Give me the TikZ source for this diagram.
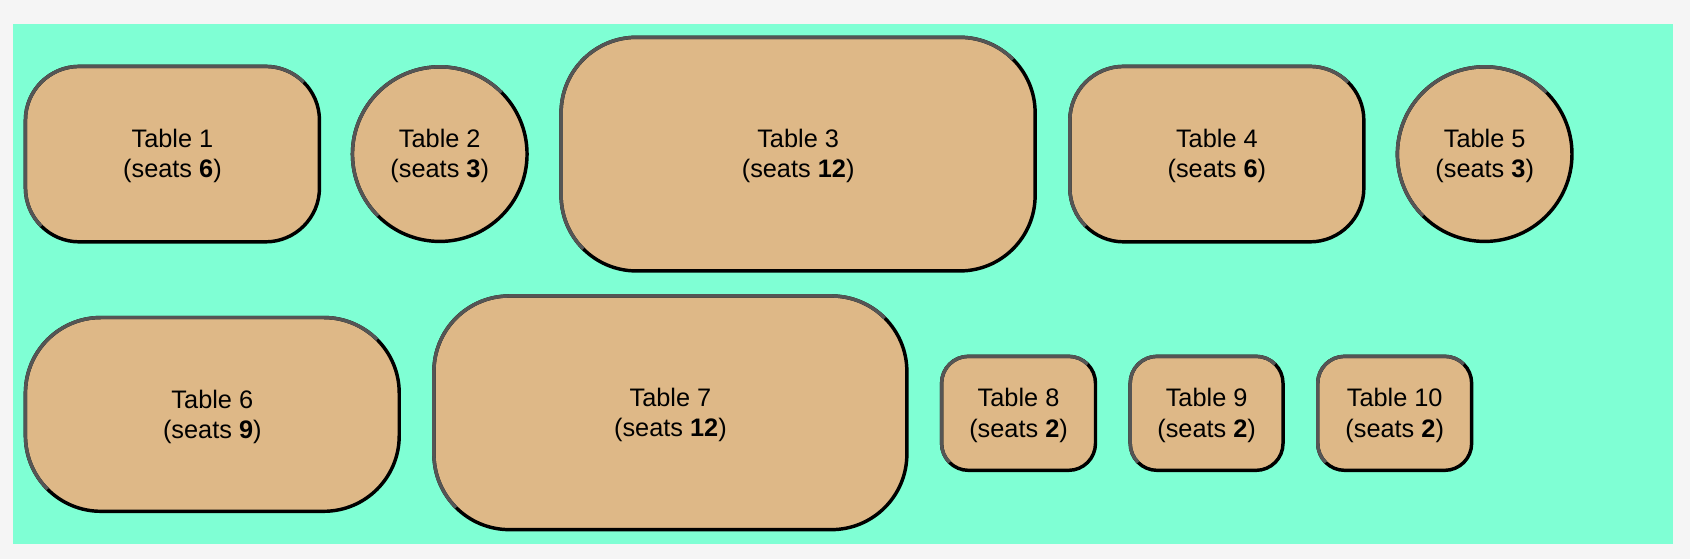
\documentclass[tikz,border=0pt]{standalone}
\usepackage{fontspec}
\setmainfont{Liberation Sans}
\definecolor{pagebg}{HTML}{F5F5F5}
\definecolor{floor}{HTML}{7FFFD4}
\definecolor{wood}{HTML}{DEB887}
\definecolor{edgegray}{HTML}{555555}
\tikzset{
  tabletext/.style={font=\fontsize{23.5}{28}\selectfont, align=center, text=black},
  recttable/.style={tabletext, rectangle, fill=wood, draw=black, line width=3.2pt, inner sep=0pt, outer sep=0pt},
  roundtable/.style={tabletext, circle, fill=wood, draw=black, line width=3.2pt, inner sep=0pt, outer sep=0pt, minimum size=162pt},
  upperedge/.style={draw=edgegray, line width=3.2pt},
}
\newcommand{\tabletxt}[1]{\raisebox{-2.5pt}[\height][\depth]{\begin{tabular}{@{}c@{}}#1\end{tabular}}}
% \recttab{name}{cx}{cy}{outer w}{outer h}{radius}{text}
\newcommand{\recttab}[7]{%
  \pgfmathsetmacro{\rw}{#4-3.2}%
  \pgfmathsetmacro{\rh}{#5-3.2}%
  \pgfmathsetmacro{\rr}{#6}%
  \node[recttable, minimum width=\rw pt, minimum height=\rh pt, rounded corners=\rr pt] (#1) at (#2,#3) {\tabletxt{#7}};
  \draw[upperedge] ([xshift=\rr pt-0.7071*\rr pt, yshift=\rr pt-0.7071*\rr pt]#1.south west)
     arc[start angle=225, end angle=180, radius=\rr pt]
     -- ([yshift=-\rr pt]#1.north west)
     arc[start angle=180, end angle=90, radius=\rr pt]
     -- ([xshift=-\rr pt]#1.north east)
     arc[start angle=90, end angle=45, radius=\rr pt];
}
% \roundtab{name}{cx}{cy}{text}
\newcommand{\roundtab}[4]{%
  \node[roundtable] (#1) at (#2,#3) {\tabletxt{#4}};
  \draw[upperedge] (#1.45) arc[start angle=45, end angle=225, radius=81pt];
}
\renewcommand{\arraystretch}{1}
\setlength{\tabcolsep}{0pt}
\begin{document}
\begin{tikzpicture}[x=1pt,y=1pt]
  \useasboundingbox[fill=pagebg] (0,0) rectangle (1568,519);
  \fill[floor] (12,14) rectangle (1552,497);
  % row 1
  \recttab{t1}{160}{376}{276}{166}{50}{Table 1\\(seats \textbf{6})}
  \roundtab{t2}{408}{376}{Table 2\\(seats \textbf{3})}
  \recttab{t3}{740.5}{376}{443}{220}{70}{Table 3\\(seats \textbf{12})}
  \recttab{t4}{1129}{376}{276}{166}{50}{Table 4\\(seats \textbf{6})}
  \roundtab{t5}{1377.5}{376}{Table 5\\(seats \textbf{3})}
  % row 2
  \recttab{t6}{197}{134.5}{350}{183}{70}{Table 6\\(seats \textbf{9})}
  \recttab{t7}{622}{136}{442}{220}{70}{Table 7\\(seats \textbf{12})}
  \recttab{t8}{945}{135.5}{146}{109}{25}{Table 8\\(seats \textbf{2})}
  \recttab{t9}{1119.5}{135.5}{145}{109}{25}{Table 9\\(seats \textbf{2})}
  \recttab{t10}{1294}{135.5}{146}{109}{25}{Table 10\\(seats \textbf{2})}
\end{tikzpicture}
\end{document}
